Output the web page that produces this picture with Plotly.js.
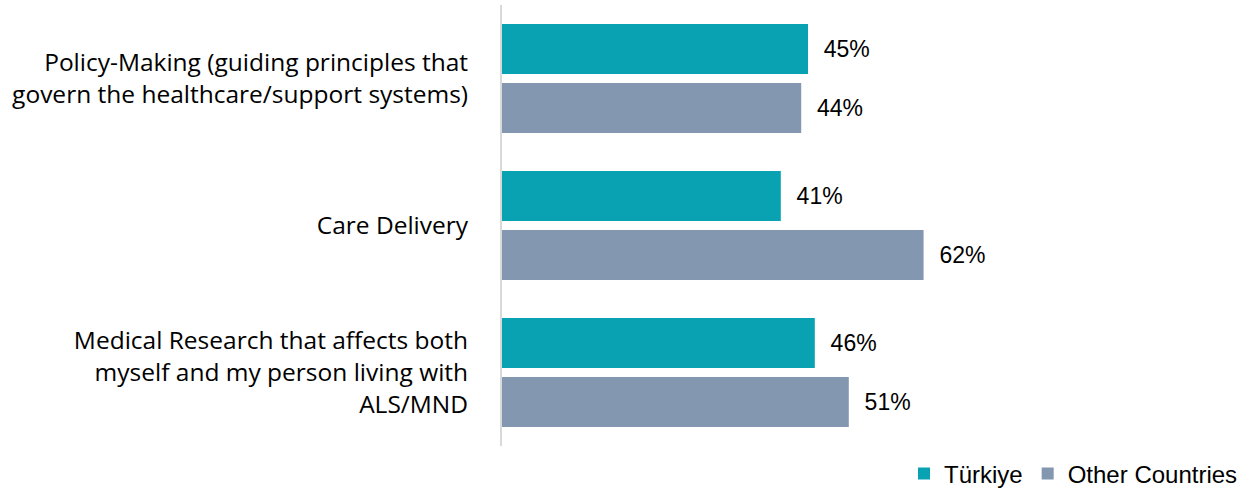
<!DOCTYPE html>
<html>
<head>
<meta charset="utf-8">
<script src="https://cdn.plot.ly/plotly-3.0.1.min.js"></script>
<style>html,body{margin:0;padding:0;background:#fff;}#chart{width:1243px;height:491px;}</style>
</head>
<body>
<div id="chart"></div>
<script>
const categories = [
  "Policy-Making (guiding principles that<br>govern the healthcare/support systems)",
  "Care Delivery",
  "Medical Research that affects both<br>myself and my person living with<br>ALS/MND"
];
const seriesNames = ["Türkiye", "Other Countries"];
const turkiye = [0.45, 0.41, 0.46];
const otherCountries = [0.44, 0.62, 0.51];
const colors = ["#08A2B2", "#8497B0"];

const labelFont = {family: "Liberation Sans, Arial, sans-serif", size: 23, color: "#000"};
const legendFont = {family: "Liberation Sans, Arial, sans-serif", size: 24, color: "#000"};
function mk(name, vals, color) {
  return {
    type: "bar", orientation: "h", name: name,
    y: categories, x: vals,
    marker: {color: color},
    text: vals.map(v => "\u00a0\u00a0" + Math.round(v * 100) + "%"),
    textposition: "outside", textfont: labelFont, constraintext: "none",
    cliponaxis: false, hoverinfo: "skip"
  };
}
const data = [mk(seriesNames[0], turkiye, colors[0]), mk(seriesNames[1], otherCountries, colors[1])];
const layout = {
  width: 1243, height: 491,
  margin: {l: 502, r: 61, t: 5, b: 45},
  paper_bgcolor: "#fff", plot_bgcolor: "#fff",
  barmode: "group", bargap: 0.197, bargroupgap: 0.153,
  showlegend: true,
  legend: {orientation: "h", xref: "container", yref: "container",
           x: 1, xanchor: "right", y: 0.035, yanchor: "middle",
           font: legendFont, itemwidth: 30, traceorder: "normal"},
  xaxis: {range: [0, 1], visible: false, showgrid: false, zeroline: false, fixedrange: true},
  yaxis: {autorange: "reversed", showline: true, linecolor: "#d9d9d9", linewidth: 2,
          ticks: "outside", ticklen: 27, tickcolor: "rgba(0,0,0,0)",
          showgrid: false, zeroline: false,
          tickfont: {family: "Open Sans, sans-serif", size: 24.5, color: "#000"}}
};
Plotly.newPlot("chart", data, layout, {displayModeBar: false, staticPlot: true});
</script>
</body>
</html>
